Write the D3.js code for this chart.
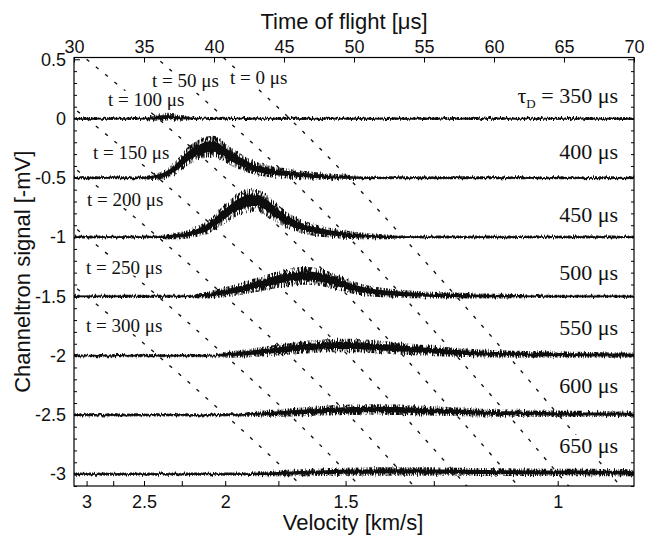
<!DOCTYPE html>
<html>
<head>
<meta charset="utf-8">
<script src="https://cdn.jsdelivr.net/npm/d3@7/dist/d3.min.js"></script>
<style>
  html, body { margin: 0; padding: 0; background: #fff; }
  svg { display: block; }
</style>
</head>
<body>
<svg id="chart" width="647" height="537"></svg>
<script>
// ---------------- data ----------------
// Channeltron traces sampled every 0.5 μs of time of flight, 30 … 70 μs (81 samples).
const tofStart = 30;
const tofStep = 0.5;

// Trap delay of each trace (μs); each trace is shifted down 0.5 mV per 50 μs of delay.
const delays = [350, 400, 450, 500, 550, 600, 650];

// Signal above each trace's own baseline (-mV).
const sig350 = [
  0,0,0,0,0,0,0,0,0,0,
  0,0.004,0.01,0.012,0.01,0.006,0.003,0,0,0,
  0,0,0,0,0,0,0,0,0,0,
  0,0,0,0,0,0,0,0,0,0,
  0,0,0,0,0,0,0,0,0,0,
  0,0,0,0,0,0,0,0,0,0,
  0,0,0,0,0,0,0,0,0,0,
  0,0,0,0,0,0,0,0,0,0,
  0];
const sig400 = [
  0,0,0,0,0,0,0,0,0,0,
  0,0.004,0.012,0.03,0.06,0.11,0.17,0.21,0.24,0.26,
  0.265,0.235,0.195,0.16,0.13,0.1,0.08,0.065,0.053,0.044,
  0.04,0.033,0.027,0.022,0.018,0.014,0.011,0.008,0.006,0.004,
  0.002,0,0,0,0,0,0,0,0,0,
  0,0,0,0,0,0,0,0,0,0,
  0,0,0,0,0,0,0,0,0,0,
  0,0,0,0,0,0,0,0,0,0,
  0];
const sig450 = [
  0,0,0,0,0,0,0,0,0,0,
  0,0,0,0.003,0.006,0.012,0.02,0.035,0.055,0.08,
  0.12,0.17,0.215,0.26,0.29,0.31,0.31,0.29,0.25,0.2,
  0.16,0.125,0.1,0.08,0.064,0.052,0.041,0.032,0.025,0.019,
  0.014,0.01,0.007,0.005,0.003,0.002,0,0,0,0,
  0,0,0,0,0,0,0,0,0,0,
  0,0,0,0,0,0,0,0,0,0,
  0,0,0,0,0,0,0,0,0,0,
  0];
const sig500 = [
  0,0,0,0,0,0,0,0,0,0,
  0,0,0,0,0,0,0,0,0.005,0.01,
  0.02,0.03,0.04,0.052,0.065,0.08,0.095,0.11,0.125,0.14,
  0.152,0.162,0.17,0.172,0.17,0.162,0.148,0.13,0.11,0.09,
  0.073,0.058,0.047,0.039,0.033,0.028,0.024,0.02,0.017,0.014,
  0.012,0.01,0.009,0.008,0.007,0.006,0.005,0.004,0.003,0.003,
  0.002,0.002,0.002,0.001,0.001,0,0,0,0,0,
  0,0,0,0,0,0,0,0,0,0,
  0];
const sig550 = [
  0,0,0,0,0,0,0,0,0,0,
  0,0,0,0,0,0,0,0,0,0,
  0,0.004,0.008,0.012,0.017,0.022,0.028,0.034,0.04,0.046,
  0.052,0.058,0.064,0.07,0.075,0.079,0.082,0.084,0.085,0.085,
  0.084,0.082,0.079,0.075,0.071,0.067,0.063,0.059,0.054,0.05,
  0.045,0.041,0.037,0.033,0.03,0.027,0.024,0.021,0.019,0.017,
  0.015,0.014,0.013,0.012,0.011,0.01,0.01,0.009,0.009,0.008,
  0.008,0.007,0.007,0.006,0.006,0.005,0.005,0.005,0.004,0.004,
  0.004];
const sig600 = [
  0,0,0,0,0,0,0,0,0,0,
  0,0,0,0,0,0,0,0,0,0,
  0,0,0,0,0,0.003,0.006,0.009,0.012,0.015,
  0.018,0.021,0.024,0.027,0.03,0.033,0.036,0.038,0.04,0.042,
  0.043,0.044,0.045,0.045,0.045,0.044,0.043,0.042,0.04,0.038,
  0.036,0.034,0.032,0.03,0.028,0.026,0.024,0.022,0.02,0.018,
  0.016,0.015,0.014,0.013,0.012,0.011,0.01,0.01,0.009,0.009,
  0.008,0.008,0.008,0.007,0.007,0.007,0.006,0.006,0.006,0.006,
  0.006];
const sig650 = [
  0,0,0,0,0,0,0,0,0,0,
  0,0,0,0,0,0,0,0,0,0,
  0,0,0,0,0,0,0.002,0.003,0.004,0.006,
  0.008,0.009,0.011,0.012,0.014,0.015,0.017,0.018,0.019,0.02,
  0.021,0.021,0.022,0.022,0.023,0.023,0.023,0.023,0.023,0.023,
  0.022,0.022,0.021,0.021,0.02,0.02,0.019,0.019,0.018,0.018,
  0.017,0.017,0.017,0.016,0.016,0.016,0.016,0.015,0.015,0.015,
  0.015,0.014,0.014,0.014,0.014,0.013,0.013,0.013,0.013,0.012,
  0.012];
const traceSignals = [sig350, sig400, sig450, sig500, sig550, sig600, sig650];

// Axis ticks
const tofTicks = [30, 35, 40, 45, 50, 55, 60, 65, 70];
const signalTicks = [0.5, 0, -0.5, -1, -1.5, -2, -2.5, -3];
const velocityTicks = [3, 2.75, 2.5, 2.25, 2, 1.75, 1.5, 1.25, 1];
const velocityTickTOF = [30.9, 32.8, 35.0, 37.7, 40.8, 44.6, 49.4, 55.7, 64.55];
const velocityLabelled = [3, 2.5, 2, 1.5, 1];

// Dotted guide lines: release time t, and the time of flight reached
// for each delay-after-release (τD − t).
const releaseTimes = [0, 50, 100, 150, 200, 250, 300];
const delayAfterRelease = [150, 200, 250, 300, 350, 400, 450, 500, 550, 600, 650, 700];
const guideTOF = [25.5, 30.9, 36.0, 40.8, 45.4, 49.6, 53.5, 57.3, 61.0, 64.6, 68.3, 72.0];

// ---------------- layout ----------------
const plot = { left: 74, right: 634, top: 57.5, bottom: 486 };
const sans = '"Liberation Sans", Arial, Helvetica, sans-serif';
const serif = '"Liberation Serif", "Times New Roman", Times, serif';

// label placement inside the frame
const releaseLabelPos = [
  { t: 0,   x: 230, y: 77 },
  { t: 50,  x: 152, y: 80 },
  { t: 100, x: 108, y: 99 },
  { t: 150, x: 93,  y: 152 },
  { t: 200, x: 87,  y: 199 },
  { t: 250, x: 86,  y: 267 },
  { t: 300, x: 86,  y: 325 }
];
const delayLabelY = [95, 151, 214, 272, 327, 385, 445];

const svg = d3.select('#chart');

const x = d3.scaleLinear().domain([30, 70]).range([plot.left, plot.right]);
const y = d3.scaleLinear().domain([-3.1, 0.515]).range([plot.bottom, plot.top]);
// trap delay → vertical position (350 μs sits on 0, 50 μs per 0.5 mV)
const yDelay = tau => y((350 - tau) / 100);
// velocity → pixel through its time-of-flight calibration
const xVel = d3.scaleLinear().domain(velocityTicks).range(velocityTickTOF.map(x));
// delay-after-release → time of flight
const tofOfDelay = d3.scaleLinear().domain(delayAfterRelease).range(guideTOF);

const defs = svg.append('defs');
defs.append('clipPath').attr('id', 'plotClip')
  .append('rect')
  .attr('x', plot.left).attr('y', plot.top)
  .attr('width', plot.right - plot.left).attr('height', plot.bottom - plot.top);

// detector-noise texture for the traces: vertical-only jitter plus ragged spikes
const jitter = defs.append('filter').attr('id', 'jitter')
  .attr('filterUnits', 'userSpaceOnUse')
  .attr('x', plot.left - 5).attr('y', plot.top - 10)
  .attr('width', plot.right - plot.left + 10).attr('height', plot.bottom - plot.top + 20);
jitter.append('feTurbulence').attr('type', 'fractalNoise').attr('baseFrequency', '0.9 0.03')
  .attr('numOctaves', 2).attr('seed', 4).attr('result', 'n');
jitter.append('feColorMatrix').attr('in', 'n').attr('type', 'matrix')
  .attr('values', '1 0 0 0 0  0 0 0 0 0.5  0 0 0 0 0  0 0 0 0 1').attr('result', 'dmap');
jitter.append('feDisplacementMap').attr('in', 'SourceGraphic').attr('in2', 'dmap')
  .attr('scale', 3.5).attr('xChannelSelector', 'G').attr('yChannelSelector', 'R');

const spiky = defs.append('filter').attr('id', 'spiky')
  .attr('filterUnits', 'userSpaceOnUse')
  .attr('x', plot.left - 5).attr('y', plot.top - 10)
  .attr('width', plot.right - plot.left + 10).attr('height', plot.bottom - plot.top + 20);
spiky.append('feTurbulence').attr('type', 'fractalNoise').attr('baseFrequency', '0.75 0.12')
  .attr('numOctaves', 2).attr('seed', 9).attr('result', 'n');
spiky.append('feComponentTransfer').attr('in', 'n').attr('result', 'mask')
  .append('feFuncA').attr('type', 'linear').attr('slope', 6).attr('intercept', -2.5);
spiky.append('feComposite').attr('in', 'SourceGraphic').attr('in2', 'mask').attr('operator', 'in');

const inner = svg.append('g').attr('clip-path', 'url(#plotClip)');

// ---- dotted guide lines ----
const guideLine = d3.line().x(d => d[0]).y(d => d[1]).curve(d3.curveMonotoneX);
inner.append('g').selectAll('path').data(releaseTimes).join('path')
  .attr('d', t => guideLine(delayAfterRelease.map(dt => [x(tofOfDelay(dt)), yDelay(t + dt)])))
  .attr('fill', 'none')
  .attr('stroke', '#111')
  .attr('stroke-width', 1.35)
  .attr('stroke-dasharray', '3.5 8.5');

// ---- traces ----
const traces = delays.map((tau, k) => {
  const base = (350 - tau) / 100;
  return traceSignals[k].map((s, i) => ({ tof: tofStart + i * tofStep, v: base + s, s }));
});
const band = hw => d3.area()
  .x(d => x(d.tof))
  .y0(d => y(d.v - hw(d.s)))
  .y1(d => y(d.v + hw(d.s)))
  .curve(d3.curveMonotoneX);
const outerHW = s => 0.013 + 0.15 * Math.sqrt(s);
const coreHW = s => 0.007 + 0.075 * Math.sqrt(s);

const gTr = inner.append('g').attr('filter', 'url(#jitter)');
gTr.append('g').attr('filter', 'url(#spiky)')
  .selectAll('path').data(traces).join('path')
  .attr('d', band(outerHW)).attr('fill', '#111');
gTr.append('g').selectAll('path').data(traces).join('path')
  .attr('d', band(coreHW)).attr('fill', '#111');
gTr.append('g').selectAll('path').data(traces).join('path')
  .attr('d', d3.line().x(d => x(d.tof)).y(d => y(d.v)).curve(d3.curveMonotoneX))
  .attr('fill', 'none').attr('stroke', '#111').attr('stroke-width', 1.3);

// white backing so the guides do not run through a label
const backLabel = (g, txt) => {
  const bb = txt.node().getBBox();
  g.insert('rect', () => txt.node())
    .attr('x', bb.x - 1).attr('y', bb.y + 2).attr('width', bb.width + 2).attr('height', bb.height - 4)
    .attr('fill', '#fff');
};

// ---- release-time labels ----
const gLab = svg.append('g').attr('font-family', serif).attr('font-size', 19).attr('fill', '#111');
releaseLabelPos.forEach(p => {
  const txt = gLab.append('text').attr('x', p.x).attr('y', p.y).attr('dy', '0.35em')
    .text(`t = ${p.t} μs`);
  backLabel(gLab, txt);
});

// ---- delay labels on the right ----
const gDel = svg.append('g').attr('font-family', serif).attr('font-size', 22).attr('fill', '#111')
  .attr('text-anchor', 'end');
delays.forEach((tau, k) => {
  const t = gDel.append('text').attr('x', 618).attr('y', delayLabelY[k]).attr('dy', '0.35em');
  if (k === 0) {
    t.append('tspan').text('τ');
    t.append('tspan').attr('font-size', 13).attr('dy', 5).text('D');
    t.append('tspan').attr('dy', -5).text(` = ${tau} μs`);
  } else {
    t.text(`${tau} μs`);
  }
  backLabel(gDel, t);
});

// ---- axes ----
const styleAxis = g => {
  g.select('.domain').remove();
  g.selectAll('.tick line').attr('stroke', '#000').attr('stroke-width', 1);
  g.selectAll('.tick text').attr('font-family', sans).attr('font-size', 18).attr('fill', '#111');
};

// top: time of flight
svg.append('g').attr('transform', `translate(0,${plot.top})`)
  .call(d3.axisTop(x).tickValues(tofTicks).tickSize(-5).tickPadding(5).tickFormat(d3.format('d')))
  .call(styleAxis);

// bottom: velocity
svg.append('g').attr('transform', `translate(0,${plot.bottom})`)
  .call(d3.axisBottom(xVel).tickValues(velocityTicks).tickSize(-5).tickPadding(9)
    .tickFormat(v => velocityLabelled.includes(v) ? String(v) : ''))
  .call(styleAxis);

// left: signal, major and minor ticks
const minorSignal = d3.range(-31, 6).map(i => i / 10).filter(v => !signalTicks.includes(v));
svg.append('g').attr('transform', `translate(${plot.left},0)`)
  .call(d3.axisLeft(y).tickValues(signalTicks).tickSize(-6).tickPadding(8).tickFormat(v => String(v)))
  .call(styleAxis);
svg.append('g').attr('transform', `translate(${plot.left},0)`)
  .call(d3.axisLeft(y).tickValues(minorSignal).tickSize(-3).tickFormat(''))
  .call(styleAxis);
// right mirror ticks
svg.append('g').attr('transform', `translate(${plot.right},0)`)
  .call(d3.axisRight(y).tickValues(signalTicks).tickSize(-6).tickFormat(''))
  .call(styleAxis);
svg.append('g').attr('transform', `translate(${plot.right},0)`)
  .call(d3.axisRight(y).tickValues(minorSignal).tickSize(-3).tickFormat(''))
  .call(styleAxis);

// frame
svg.append('rect')
  .attr('x', plot.left).attr('y', plot.top)
  .attr('width', plot.right - plot.left).attr('height', plot.bottom - plot.top)
  .attr('fill', 'none').attr('stroke', '#000').attr('stroke-width', 1.2);

// axis titles
svg.append('text').attr('x', 344).attr('y', 29).attr('text-anchor', 'middle')
  .attr('font-family', sans).attr('font-size', 22).attr('fill', '#111')
  .text('Time of flight [μs]');
svg.append('text').attr('x', 353).attr('y', 530).attr('text-anchor', 'middle')
  .attr('font-family', sans).attr('font-size', 22).attr('fill', '#111')
  .text('Velocity [km/s]');
svg.append('text').attr('transform', `translate(30,${(plot.top + plot.bottom) / 2}) rotate(-90)`)
  .attr('text-anchor', 'middle')
  .attr('font-family', sans).attr('font-size', 22).attr('fill', '#111')
  .text('Channeltron signal [-mV]');
</script>
</body>
</html>
